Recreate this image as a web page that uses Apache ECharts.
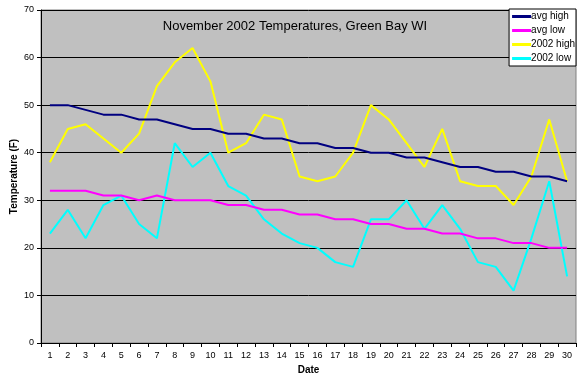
<!DOCTYPE html>
<html><head><meta charset="utf-8">
<script src="https://cdn.jsdelivr.net/npm/echarts@6/dist/echarts.min.js"></script>
<style>html,body{margin:0;padding:0;background:#fff}#c{width:587px;height:378px}</style>
</head><body><div id="c"></div>
<script>
var days = ['1','2','3','4','5','6','7','8','9','10','11','12','13','14','15','16','17','18','19','20','21','22','23','24','25','26','27','28','29','30'];
var avgHigh = [50,50,49,48,48,47,47,46,45,45,44,44,43,43,42,42,41,41,40,40,39,39,38,37,37,36,36,35,35,34];
var avgLow = [32,32,32,31,31,30,31,30,30,30,29,29,28,28,27,27,26,26,25,25,24,24,23,23,22,22,21,21,20,20];
var high2002 = [38,45,46,43,40,44,54,59,62,55,40,42,48,47,35,34,35,40,50,47,42,37,45,34,33,33,29,35,47,34];
var low2002 = [23,28,22,29,31,25,22,42,37,40,33,31,26,23,21,20,17,16,26,26,30,24,29,24,17,16,11,22,34,14];
var seriesNames = ['avg high','avg low','2002 high','2002 low'];
var seriesColors = ['#000080','#FF00FF','#FFFF00','#00FFFF'];
var seriesData = [avgHigh, avgLow, high2002, low2002];

var chart = echarts.init(document.getElementById('c'), null, {renderer:'canvas'});
var font = 'Arial, "Liberation Sans", sans-serif';
chart.setOption({
  animation:false,
  backgroundColor:'#fff',
  title:{text:'November 2002 Temperatures, Green Bay WI', left:290, top:15, textAlign:'center',
    textStyle:{fontFamily:font, fontSize:13, fontWeight:'normal', color:'#000'}},
  legend:{orient:'vertical', right:11, top:9, backgroundColor:'#fff', borderColor:'#000', borderWidth:1,
    padding:[2,1,2,3], itemGap:3, itemWidth:19, itemHeight:3, icon:'rect',
    data:seriesNames,
    textStyle:{fontFamily:font, fontSize:10, color:'#000', padding:[0,0,0,-5], lineHeight:11}},
  grid:{left:41, right:11, top:10, bottom:35, outerBoundsMode:'none', containLabel:false, show:true, backgroundColor:'#C0C0C0', borderColor:'#808080', borderWidth:1},
  xAxis:{type:'category', data:days, boundaryGap:true, name:'Date', nameLocation:'middle', nameGap:22, nameMoveOverlap:false,
    nameTextStyle:{fontFamily:font, fontSize:10, fontWeight:'bold', color:'#000'},
    axisLine:{lineStyle:{color:'#000', width:1}}, axisTick:{show:true, length:4, lineStyle:{color:'#000'}, alignWithLabel:false},
    axisLabel:{fontFamily:font, fontSize:9, color:'#000', margin:8, interval:0}},
  yAxis:{type:'value', min:0, max:70, interval:10, name:'Temperature (F)', nameLocation:'middle', nameGap:22, nameMoveOverlap:false,
    nameTextStyle:{fontFamily:font, fontSize:10, fontWeight:'bold', color:'#000'},
    axisLine:{show:true, lineStyle:{color:'#000', width:1}}, axisTick:{show:true, length:4, lineStyle:{color:'#000'}},
    axisLabel:{fontFamily:font, fontSize:9, color:'#000', margin:7},
    splitLine:{lineStyle:{color:'#000', width:1}}},
  series: seriesNames.map(function(n,i){
    return {name:n, type:'line', data:seriesData[i], symbol:'none', color:seriesColors[i],
      lineStyle:{color:seriesColors[i], width:2}, z:10-i};
  })
});
</script></body></html>
